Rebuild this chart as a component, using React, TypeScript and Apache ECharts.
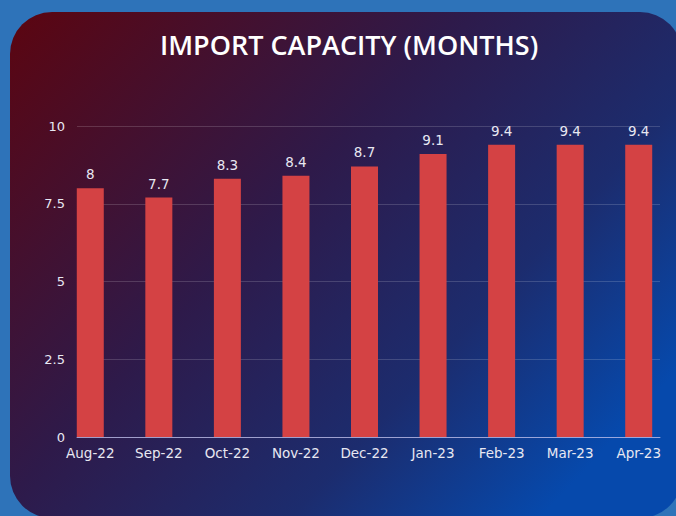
import React, { useEffect, useRef } from "react";
import * as echarts from "echarts";

const categories = ["Aug-22", "Sep-22", "Oct-22", "Nov-22", "Dec-22", "Jan-23", "Feb-23", "Mar-23", "Apr-23"];
const values = [8, 7.7, 8.3, 8.4, 8.7, 9.1, 9.4, 9.4, 9.4];
const yTicks = [0, 2.5, 5, 7.5, 10];
const title = "IMPORT CAPACITY (MONTHS)";

const FONT = "'DejaVu Sans', 'Open Sans', sans-serif";
const TITLE_FONT = "'Open Sans', 'DejaVu Sans', sans-serif";

export default function App() {
  const ref = useRef<HTMLDivElement>(null);
  useEffect(() => {
    if (!ref.current) return;
    const chart = echarts.init(ref.current, undefined, { renderer: "svg" });
    chart.setOption({
      animation: false,
      backgroundColor: "#2e73b9",
      graphic: [
        {
          type: "rect",
          z: -100,
          silent: true,
          shape: { x: 10, y: 12, width: 672, height: 506, r: 42 },
          style: {
            fill: new echarts.graphic.LinearGradient(0, 0, 1, 0.7, [
              { offset: 0, color: "#5c0510" },
              { offset: 0.45, color: "#2e1a4a" },
              { offset: 0.75, color: "#1c2c6e" },
              { offset: 1, color: "#0649ac" },
            ]),
          },
        },
      ],
      title: {
        text: title,
        left: 155,
        top: 26,
        textStyle: { color: "#ffffff", fontSize: 27, fontWeight: 600, fontFamily: TITLE_FONT },
      },
      grid: [
        { left: 56, right: 3, top: 126, bottom: 79 },
        { left: 77, right: 16, top: 126, bottom: 79 },
      ],
      xAxis: [
        {
          type: "category",
          gridIndex: 0,
          data: categories,
          boundaryGap: true,
          axisLine: { show: false },
          axisTick: { show: false },
          axisLabel: { color: "#e8e8f2", fontSize: 13.5, fontFamily: FONT, margin: 9, interval: 0 },
        },
        {
          type: "value",
          gridIndex: 1,
          min: 0,
          max: 1,
          axisLine: { show: true, lineStyle: { color: "rgba(190,190,235,0.75)", width: 1 } },
          axisTick: { show: false },
          axisLabel: { show: false },
          splitLine: { show: false },
        },
      ],
      yAxis: [
        {
          type: "value",
          gridIndex: 0,
          min: 0,
          max: 10,
          show: false,
        },
        {
          type: "value",
          gridIndex: 1,
          min: 0,
          max: 10,
          interval: 2.5,
          axisLine: { show: false },
          axisTick: { show: false },
          axisLabel: {
            color: "#e8e8f2",
            fontSize: 13,
            fontFamily: FONT,
            margin: 12,
            formatter: (v: number) => (yTicks.includes(v) ? String(v) : ""),
          },
          splitLine: { lineStyle: { color: "rgba(255,255,255,0.16)", width: 1 } },
        },
      ],
      series: [
        {
          type: "bar",
          xAxisIndex: 0,
          yAxisIndex: 0,
          data: values,
          barWidth: 27,
          itemStyle: { color: "#d44244" },
          label: {
            show: true,
            position: "top",
            distance: 7,
            color: "#e8e8f2",
            fontSize: 13.5,
            fontFamily: FONT,
          },
        },
      ],
    });
    return () => chart.dispose();
  }, []);
  return <div ref={ref} style={{ position: "fixed", left: 0, top: 0, width: 676, height: 516 }} />;
}
